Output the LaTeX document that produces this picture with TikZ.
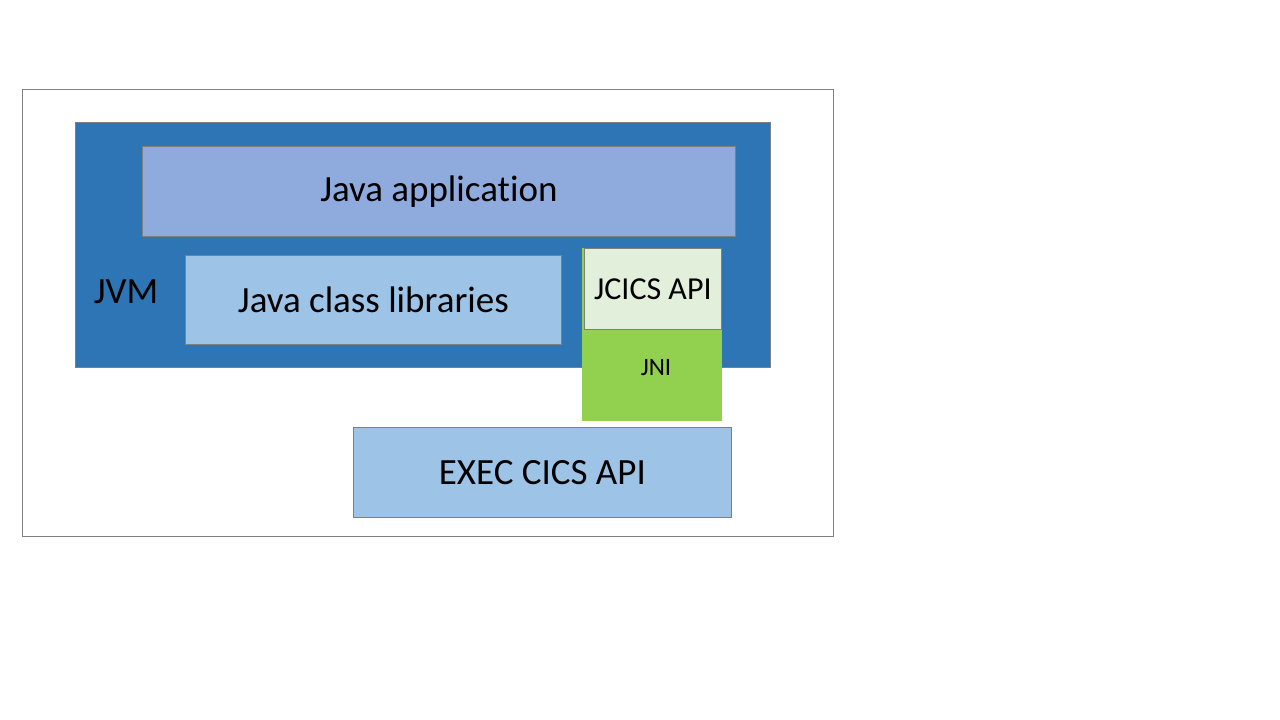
\documentclass[tikz,border=0pt]{standalone}
\usepackage{fontspec}
\setmainfont{Carlito}[Ligatures=NoCommon]
\definecolor{jvmblue}{HTML}{2E75B6}
\definecolor{appblue}{HTML}{8FAADC}
\definecolor{libblue}{HTML}{9DC3E6}
\definecolor{jnigreen}{HTML}{92D050}
\definecolor{jcicsgreen}{HTML}{E2EFDA}
\definecolor{edgegray}{HTML}{7F7F7F}

\tikzset{
    layer/.style={draw=edgegray, line width=0.8pt, anchor=north west, inner sep=0pt},
    lbl/.style={font=\fontsize{37}{44}\selectfont, inner sep=0pt}
}

\begin{document}
\begin{tikzpicture}[x=1pt, y=-1pt]
    \useasboundingbox (0,0) rectangle (1280,720);

    \node[layer, minimum width=811pt, minimum height=447pt] (frame) at (22,89) {};
    \node[layer, fill=jvmblue, minimum width=695pt, minimum height=245pt] (jvm) at (75,122) {};
    \node[layer, fill=appblue, minimum width=593pt, minimum height=90pt] (app) at (142,146) {};
    \node[layer, fill=libblue, minimum width=376pt, minimum height=89pt] (libs) at (185,255) {};
    \node[layer, draw=none, fill=jnigreen, minimum width=140pt, minimum height=173pt] (jni) at (582,248) {};
    \node[layer, fill=jcicsgreen, minimum width=137pt, minimum height=81pt] (jcics) at (584,248) {};
    \node[layer, fill=libblue, minimum width=378pt, minimum height=90pt] (exec) at (353,427) {};

    % labels
    \node[lbl] (jvmtext) at (126,292) {JVM};
    \node[lbl] at (app.center) {Java application};
    \node[lbl] at (libs.center) {Java class libraries};
    \node[lbl, font=\fontsize{32}{38}\selectfont] at (jcics.center) {JCICS API};
    \node[lbl, font=\fontsize{25}{30}\selectfont] (jnitext) at (656,368) {JNI};
    \node[lbl] at (exec.center) {EXEC CICS API};
\end{tikzpicture}
\end{document}
